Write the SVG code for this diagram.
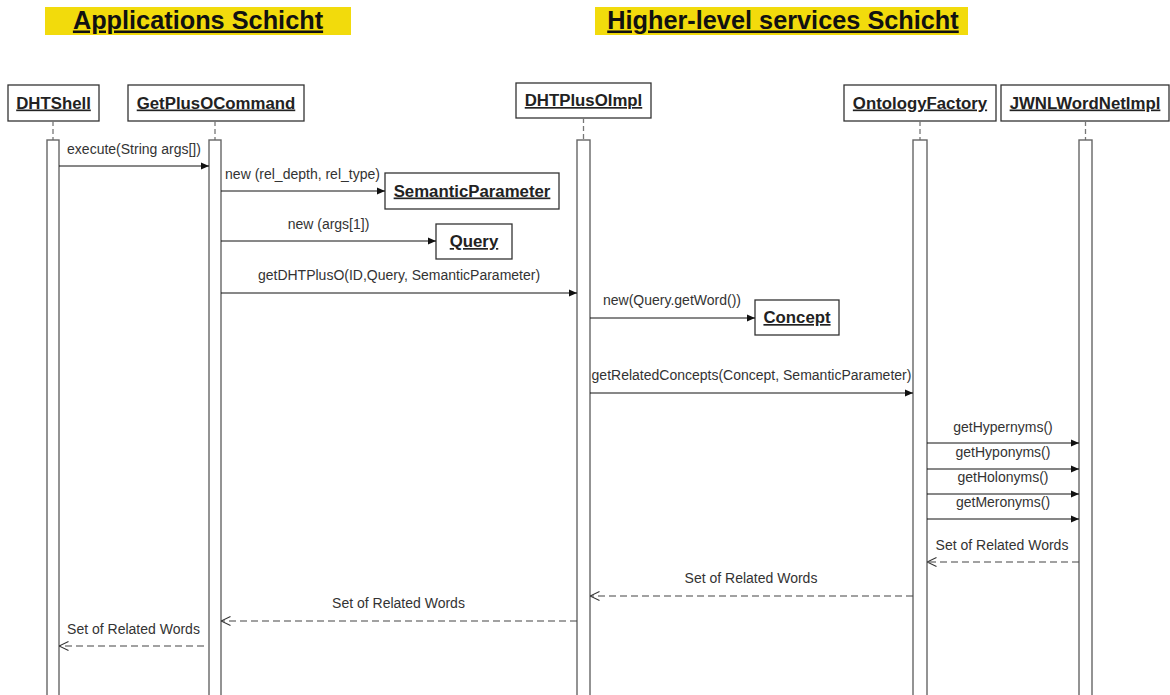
<svg xmlns="http://www.w3.org/2000/svg" width="1170" height="695" viewBox="0 0 1170 695">
  <style>
    .band { fill: #F2DB0C; }
    .title { font-family: "Liberation Sans", Arial, sans-serif; font-weight: bold; font-size: 25.3px; fill: #111; text-decoration: underline; text-anchor: middle; }
    .box { fill: #fff; stroke: #333; stroke-width: 1.3; }
    .name { font-family: "Liberation Sans", Arial, sans-serif; font-weight: bold; font-size: 16.8px; fill: #222; text-decoration: underline; text-anchor: middle; }
    .life { stroke: #777; stroke-width: 1.3; stroke-dasharray: 5 3; }
    .act { fill: #fff; stroke: #666; stroke-width: 1.4; }
    .msg { stroke: #111; stroke-width: 1; fill: none; }
    .ret { stroke: #444; stroke-width: 1.1; stroke-dasharray: 7 4; fill: none; }
    .lbl { font-family: "Liberation Sans", Arial, sans-serif; font-size: 14px; fill: #333; text-anchor: middle; }
  </style>
  <defs>
    <marker id="call" viewBox="0 0 8 8" refX="8" refY="4" markerWidth="8" markerHeight="8" markerUnits="userSpaceOnUse" orient="auto">
      <path d="M0,0.6 L8,4 L0,7.4 Z" fill="#111"/>
    </marker>
    <marker id="reply" viewBox="0 0 10 10" refX="9.5" refY="5" markerWidth="10" markerHeight="10" markerUnits="userSpaceOnUse" orient="auto">
      <path d="M0,0.5 L9.5,5 L0,9.5" fill="none" stroke="#333" stroke-width="1.1"/>
    </marker>
  </defs>

  <rect width="1170" height="695" fill="#fff"/>

  <!-- layer headings -->
  <g id="layer-applications">
    <rect class="band" x="45" y="7" width="306" height="28"/>
    <text class="title" x="198" y="28.5">Applications Schicht</text>
  </g>
  <g id="layer-services">
    <rect class="band" x="595" y="7" width="373" height="28"/>
    <text class="title" x="783" y="28.5">Higher-level services Schicht</text>
  </g>

  <!-- lifelines with activation bars -->
  <g id="DHTShell">
    <rect class="box" x="8" y="85" width="91" height="36"/>
    <text class="name" x="53.5" y="108.5">DHTShell</text>
    <line class="life" x1="53" y1="121" x2="53" y2="140"/>
    <rect class="act" x="47" y="140" width="12" height="570"/>
  </g>
  <g id="GetPlusOCommand">
    <rect class="box" x="128" y="85" width="176" height="36"/>
    <text class="name" x="216" y="108.5">GetPlusOCommand</text>
    <line class="life" x1="215" y1="121" x2="215" y2="140"/>
    <rect class="act" x="209" y="140" width="12" height="570"/>
  </g>
  <g id="DHTPlusOImpl">
    <rect class="box" x="516" y="83" width="135" height="35"/>
    <text class="name" x="583.5" y="106">DHTPlusOImpl</text>
    <line class="life" x1="583.5" y1="118" x2="583.5" y2="140"/>
    <rect class="act" x="577" y="140" width="13" height="570"/>
  </g>
  <g id="OntologyFactory">
    <rect class="box" x="844" y="85" width="152" height="36"/>
    <text class="name" x="920" y="108.5">OntologyFactory</text>
    <line class="life" x1="920" y1="121" x2="920" y2="140"/>
    <rect class="act" x="913" y="140" width="14" height="570"/>
  </g>
  <g id="JWNLWordNetImpl">
    <rect class="box" x="1001" y="85" width="168" height="36"/>
    <text class="name" x="1085" y="108.5">JWNLWordNetImpl</text>
    <line class="life" x1="1085.5" y1="121" x2="1085.5" y2="140"/>
    <rect class="act" x="1079" y="140" width="13" height="570"/>
  </g>

  <!-- created objects -->
  <g id="SemanticParameter">
    <rect class="box" x="385" y="173" width="174" height="36"/>
    <text class="name" x="472" y="196.5">SemanticParameter</text>
  </g>
  <g id="Query">
    <rect class="box" x="436" y="224" width="76" height="35"/>
    <text class="name" x="474" y="247">Query</text>
  </g>
  <g id="Concept">
    <rect class="box" x="755" y="300" width="84" height="35"/>
    <text class="name" x="797" y="323">Concept</text>
  </g>

  <!-- messages -->
  <g id="connectors">
    <line class="msg" x1="59" y1="166" x2="209" y2="166" marker-end="url(#call)"/>
    <text class="lbl" x="134" y="153.5">execute(String args[])</text>

    <line class="msg" x1="221" y1="191" x2="385" y2="191" marker-end="url(#call)"/>
    <text class="lbl" x="302.5" y="178.5">new (rel_depth, rel_type)</text>

    <line class="msg" x1="221" y1="241" x2="436" y2="241" marker-end="url(#call)"/>
    <text class="lbl" x="328.5" y="228.5">new (args[1])</text>

    <line class="msg" x1="221" y1="293" x2="577" y2="293" marker-end="url(#call)"/>
    <text class="lbl" x="399" y="280">getDHTPlusO(ID,Query, SemanticParameter)</text>

    <line class="msg" x1="590" y1="318" x2="755" y2="318" marker-end="url(#call)"/>
    <text class="lbl" x="672" y="305">new(Query.getWord())</text>

    <line class="msg" x1="590" y1="393" x2="913" y2="393" marker-end="url(#call)"/>
    <text class="lbl" x="751.5" y="380">getRelatedConcepts(Concept, SemanticParameter)</text>

    <line class="msg" x1="927" y1="443" x2="1079" y2="443" marker-end="url(#call)"/>
    <text class="lbl" x="1003" y="431.5">getHypernyms()</text>

    <line class="msg" x1="927" y1="469" x2="1079" y2="469" marker-end="url(#call)"/>
    <text class="lbl" x="1003" y="457">getHyponyms()</text>

    <line class="msg" x1="927" y1="494" x2="1079" y2="494" marker-end="url(#call)"/>
    <text class="lbl" x="1003" y="482">getHolonyms()</text>

    <line class="msg" x1="927" y1="519" x2="1079" y2="519" marker-end="url(#call)"/>
    <text class="lbl" x="1003" y="507">getMeronyms()</text>

    <!-- replies -->
    <line class="ret" x1="1079" y1="562" x2="927" y2="562" marker-end="url(#reply)"/>
    <text class="lbl" x="1002" y="549.5">Set of Related Words</text>

    <line class="ret" x1="913" y1="596" x2="590" y2="596" marker-end="url(#reply)"/>
    <text class="lbl" x="751" y="583">Set of Related Words</text>

    <line class="ret" x1="577" y1="621" x2="221" y2="621" marker-end="url(#reply)"/>
    <text class="lbl" x="398.5" y="608">Set of Related Words</text>

    <line class="ret" x1="204" y1="646" x2="59" y2="646" marker-end="url(#reply)"/>
    <text class="lbl" x="133.5" y="633.5">Set of Related Words</text>
  </g>
</svg>
